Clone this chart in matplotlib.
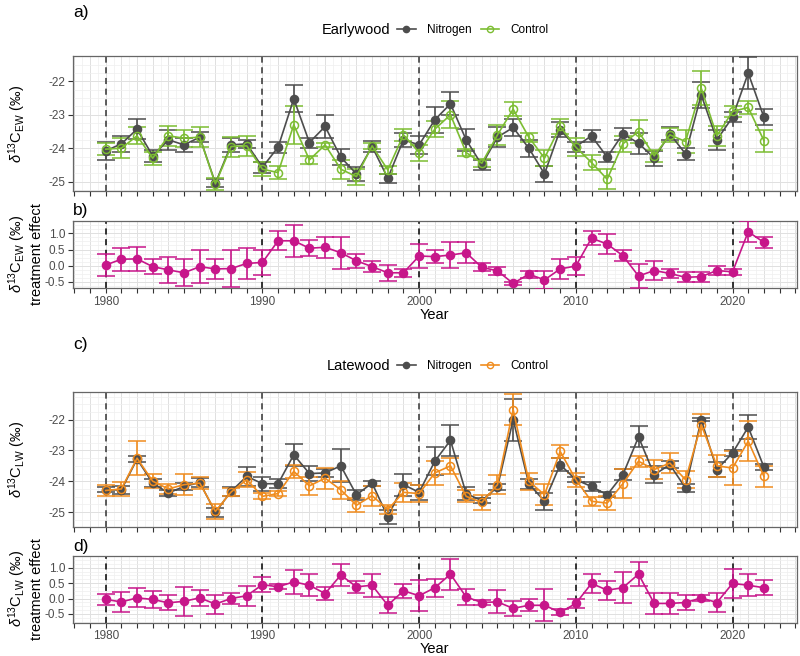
import numpy as np
import matplotlib
matplotlib.use("Agg")
import matplotlib.pyplot as plt
from matplotlib.ticker import FixedLocator, MultipleLocator, FuncFormatter
from matplotlib.lines import Line2D

plt.rcParams['axes.unicode_minus'] = False
plt.rcParams['font.family'] = ['Liberation Sans', 'DejaVu Sans']
plt.rcParams['mathtext.fontset'] = 'custom'
plt.rcParams['mathtext.rm'] = 'Liberation Sans'
plt.rcParams['mathtext.it'] = 'Liberation Sans:italic'

years = list(range(1980, 2023))

# a) earlywood
ew_nitro = [-24.08, -23.87, -23.43, -24.23, -23.75, -23.90, -23.67, -25.05, -23.90, -23.87,
            -24.57, -23.97, -22.52, -23.83, -23.35, -24.27, -24.77, -23.95, -24.90, -23.75,
            -23.90, -23.15, -22.67, -23.75, -24.50, -23.67, -23.38, -24.00, -24.77, -23.45,
            -23.95, -23.63, -24.27, -23.57, -23.85, -24.30, -23.57, -24.17, -22.40, -23.75,
            -23.07, -21.75, -23.07]
ew_nitro_se = [0.28, 0.24, 0.30, 0.17, 0.30, 0.20, 0.15, 0.12, 0.20, 0.13,
               0.16, 0.17, 0.40, 0.15, 0.34, 0.24, 0.20, 0.17, 0.14, 0.20,
               0.27, 0.39, 0.35, 0.32, 0.16, 0.30, 0.25, 0.25, 0.25, 0.22,
               0.15, 0.18, 0.15, 0.18, 0.32, 0.22, 0.19, 0.17, 0.39, 0.31,
               0.15, 0.47, 0.23]
ew_ctrl = [-24.03, -24.00, -23.63, -24.30, -23.63, -23.70, -23.67, -25.07, -23.95, -23.93,
           -24.63, -24.73, -23.30, -24.35, -23.90, -24.63, -24.85, -23.93, -24.65, -23.60,
           -24.13, -23.43, -23.00, -24.13, -24.45, -23.60, -22.83, -23.67, -24.30, -23.35,
           -23.97, -24.43, -24.93, -23.87, -23.50, -24.23, -23.60, -23.80, -22.20, -23.63,
           -22.90, -22.78, -23.77]
ew_ctrl_se = [0.18, 0.30, 0.25, 0.20, 0.30, 0.26, 0.30, 0.19, 0.30, 0.30,
              0.21, 0.20, 0.56, 0.12, 0.05, 0.28, 0.24, 0.09, 0.13, 0.18,
              0.24, 0.24, 0.40, 0.11, 0.12, 0.29, 0.22, 0.14, 0.24, 0.22,
              0.27, 0.23, 0.30, 0.25, 0.33, 0.17, 0.20, 0.35, 0.50, 0.29,
              0.17, 0.19, 0.33]

# b) earlywood treatment effect
ew_eff = [0.02, 0.20, 0.21, -0.03, -0.13, -0.22, -0.03, -0.10, -0.09, 0.07,
          0.10, 0.77, 0.77, 0.54, 0.57, 0.40, 0.15, -0.03, -0.22, -0.22,
          0.30, 0.28, 0.33, 0.40, -0.05, -0.16, -0.55, -0.26, -0.44, -0.10,
          -0.01, 0.85, 0.67, 0.31, -0.32, -0.15, -0.24, -0.36, -0.34, -0.15,
          -0.19, 1.05, 0.72]
ew_eff_se = [0.34, 0.35, 0.38, 0.23, 0.40, 0.42, 0.52, 0.31, 0.57, 0.48,
             0.40, 0.29, 0.50, 0.25, 0.32, 0.49, 0.21, 0.16, 0.24, 0.13,
             0.38, 0.20, 0.39, 0.32, 0.12, 0.13, 0.05, 0.11, 0.28, 0.30,
             0.27, 0.22, 0.31, 0.16, 0.38, 0.29, 0.13, 0.15, 0.15, 0.14,
             0.10, 0.32, 0.17]

# c) latewood
lw_nitro = [-24.28, -24.28, -23.28, -24.06, -24.38, -24.17, -24.04, -25.01, -24.33, -23.84,
            -24.08, -24.08, -23.14, -23.75, -23.73, -23.50, -24.44, -24.06, -25.16, -24.11,
            -24.36, -23.35, -22.67, -24.40, -24.63, -24.19, -22.00, -24.08, -24.65, -23.46,
            -23.95, -24.17, -24.44, -23.79, -22.56, -23.79, -23.46, -24.22, -22.00, -23.62,
            -23.08, -22.24, -23.54]
lw_nitro_se = [0.08, 0.12, 0.10, 0.12, 0.11, 0.11, 0.14, 0.15, 0.14, 0.30,
               0.23, 0.14, 0.36, 0.23, 0.13, 0.54, 0.16, 0.08, 0.24, 0.36,
               0.24, 0.46, 0.51, 0.21, 0.09, 0.11, 0.68, 0.16, 0.27, 0.22,
               0.09, 0.16, 0.08, 0.18, 0.34, 0.28, 0.11, 0.12, 0.05, 0.23,
               0.10, 0.38, 0.11]
lw_ctrl = [-24.30, -24.25, -23.25, -24.00, -24.25, -24.11, -24.06, -24.98, -24.35, -23.95,
           -24.49, -24.40, -23.68, -24.15, -23.90, -24.28, -24.78, -24.47, -24.92, -24.36,
           -24.40, -23.73, -23.50, -24.49, -24.69, -24.11, -21.67, -24.00, -24.44, -23.03,
           -23.95, -24.65, -24.71, -24.08, -23.35, -23.62, -23.41, -23.95, -22.16, -23.50,
           -23.57, -22.70, -23.84]
lw_ctrl_se = [0.19, 0.23, 0.56, 0.23, 0.15, 0.35, 0.20, 0.24, 0.12, 0.25,
              0.10, 0.08, 0.22, 0.30, 0.34, 0.29, 0.22, 0.33, 0.15, 0.31,
              0.27, 0.39, 0.27, 0.20, 0.23, 0.31, 0.49, 0.28, 0.34, 0.22,
              0.23, 0.14, 0.23, 0.47, 0.18, 0.30, 0.33, 0.27, 0.36, 0.35,
              0.56, 0.65, 0.34]

# d) latewood treatment effect
lw_eff = [-0.03, -0.11, 0.02, -0.03, -0.14, -0.09, 0.02, -0.18, 0.00, 0.09,
          0.45, 0.38, 0.54, 0.43, 0.16, 0.76, 0.38, 0.43, -0.22, 0.25,
          0.09, 0.35, 0.79, 0.05, -0.13, -0.11, -0.32, -0.22, -0.22, -0.45,
          -0.16, 0.49, 0.27, 0.35, 0.79, -0.16, -0.16, -0.13, 0.02, -0.13,
          0.49, 0.43, 0.35]
lw_eff_se = [0.18, 0.33, 0.31, 0.28, 0.24, 0.47, 0.26, 0.31, 0.17, 0.32,
             0.24, 0.08, 0.40, 0.36, 0.21, 0.36, 0.20, 0.38, 0.26, 0.22,
             0.51, 0.29, 0.50, 0.25, 0.09, 0.37, 0.25, 0.20, 0.52, 0.10,
             0.16, 0.31, 0.31, 0.50, 0.40, 0.35, 0.35, 0.24, 0.10, 0.32,
             0.46, 0.35, 0.24]

decades = [1980, 1990, 2000, 2010, 2020]

dark = '#4D4D4D'
green = '#7CBD32'
orange = '#F08C1E'
magenta = '#C7168A'
txtcol = '#4D4D4D'

fig = plt.figure(figsize=(8, 6.56), dpi=100)
L, W = 0.091, 0.905
ax_a = fig.add_axes([L, 0.709, W, 0.206])
ax_b = fig.add_axes([L, 0.561, W, 0.102])
ax_c = fig.add_axes([L, 0.196, W, 0.206])
ax_d = fig.add_axes([L, 0.051, W, 0.101])


def style(ax, ylim, ymajor, yminor, labels_x, vcol):
    ax.set_xlim(1977.9, 2024.1)
    ax.set_ylim(*ylim)
    ax.xaxis.set_major_locator(FixedLocator(list(range(1978, 2025))))
    ax.xaxis.set_minor_locator(MultipleLocator(0.5))
    if labels_x:
        ax.xaxis.set_major_formatter(FuncFormatter(lambda v, p: '%d' % v if int(round(v)) % 10 == 0 else ''))
    else:
        ax.set_xticklabels([])
    ax.yaxis.set_major_locator(FixedLocator(ymajor))
    ax.yaxis.set_minor_locator(MultipleLocator(yminor))
    ax.yaxis.set_major_formatter(FuncFormatter(lambda v, p: ('%.1f' % v) if yminor < 0.2 else '%d' % v))
    ax.grid(which='major', color='#E0E0E0', lw=0.7)
    ax.grid(which='minor', color='#EFEFEF', lw=0.5)
    ax.set_axisbelow(True)
    ax.tick_params(which='major', length=3.5, width=0.8, color='#333333', labelsize=8.5,
                   labelcolor=txtcol, pad=2)
    ax.tick_params(which='minor', length=0)
    for s in ax.spines.values():
        s.set_color('#666666')
        s.set_linewidth(0.9)
    for d in decades:
        ax.axvline(d, color=vcol, ls=(0, (4, 3)), lw=1.1, zorder=1.5)


def series(ax, y, se, col, filled):
    ax.errorbar(years, y, yerr=se, color=col, lw=1.2, elinewidth=1.2, capsize=6.5,
                capthick=1.2, marker='o', ms=5.8,
                mfc=col if filled else 'none', mec=col, mew=1.1, zorder=3)


style(ax_a, (-25.28, -21.23), [-25, -24, -23, -22], 0.25, False, '#333333')
series(ax_a, ew_nitro, ew_nitro_se, dark, True)
series(ax_a, ew_ctrl, ew_ctrl_se, green, False)

style(ax_b, (-0.69, 1.38), [-0.5, 0.0, 0.5, 1.0], 0.125, True, 'black')
series(ax_b, ew_eff, ew_eff_se, magenta, True)
ax_b.set_xlabel('Year', fontsize=10.5, labelpad=0)

style(ax_c, (-25.5, -21.11), [-25, -24, -23, -22], 0.25, False, '#333333')
series(ax_c, lw_nitro, lw_nitro_se, dark, True)
series(ax_c, lw_ctrl, lw_ctrl_se, orange, False)

style(ax_d, (-0.78, 1.37), [-0.5, 0.0, 0.5, 1.0], 0.125, True, 'black')
series(ax_d, lw_eff, lw_eff_se, magenta, True)
ax_d.set_xlabel('Year', fontsize=10.5, labelpad=0)

ew_lab = r'$\delta^{13}\mathregular{C}_{\mathregular{EW}}$ (‰)'
lw_lab = r'$\delta^{13}\mathregular{C}_{\mathregular{LW}}$ (‰)'

fs = 10.5
fig.text(17 / 800, 1 - 124 / 656, ew_lab, rotation=90, ha='center', va='center', fontsize=fs)
fig.text(17 / 800, 1 - 254 / 656, ew_lab, rotation=90, ha='center', va='center', fontsize=fs)
fig.text(37 / 800, 1 - 254 / 656, 'treatment effect', rotation=90, ha='center', va='center', fontsize=fs)
fig.text(17 / 800, 1 - 460 / 656, lw_lab, rotation=90, ha='center', va='center', fontsize=fs)
fig.text(17 / 800, 1 - 589 / 656, lw_lab, rotation=90, ha='center', va='center', fontsize=fs)
fig.text(37 / 800, 1 - 589 / 656, 'treatment effect', rotation=90, ha='center', va='center', fontsize=fs)

for lab, yy in [('a)', 12), ('b)', 211), ('c)', 345), ('d)', 547)]:
    fig.text(73 / 800, 1 - yy / 656, lab, ha='left', va='center', fontsize=12.5)


def legend(title, col2, ypix):
    fig.text(390 / 800, 1 - ypix / 656, title, ha='right', va='center', fontsize=10.5)
    h1 = Line2D([], [], color=dark, marker='o', ms=4.5, lw=1.2, mfc=dark)
    h2 = Line2D([], [], color=col2, marker='o', ms=4.5, lw=1.2, mfc='none', mec=col2)
    fig.legend([h1, h2], ['Nitrogen', 'Control'], loc='center left',
               bbox_to_anchor=(397 / 800, 1 - ypix / 656), ncol=2, frameon=False,
               fontsize=8.5, handlelength=1.6, handletextpad=0.9, columnspacing=0.8,
               borderaxespad=0, borderpad=0)


legend('Earlywood', green, 30)
legend('Latewood', orange, 366)

fig.savefig('out.png', dpi=100)
